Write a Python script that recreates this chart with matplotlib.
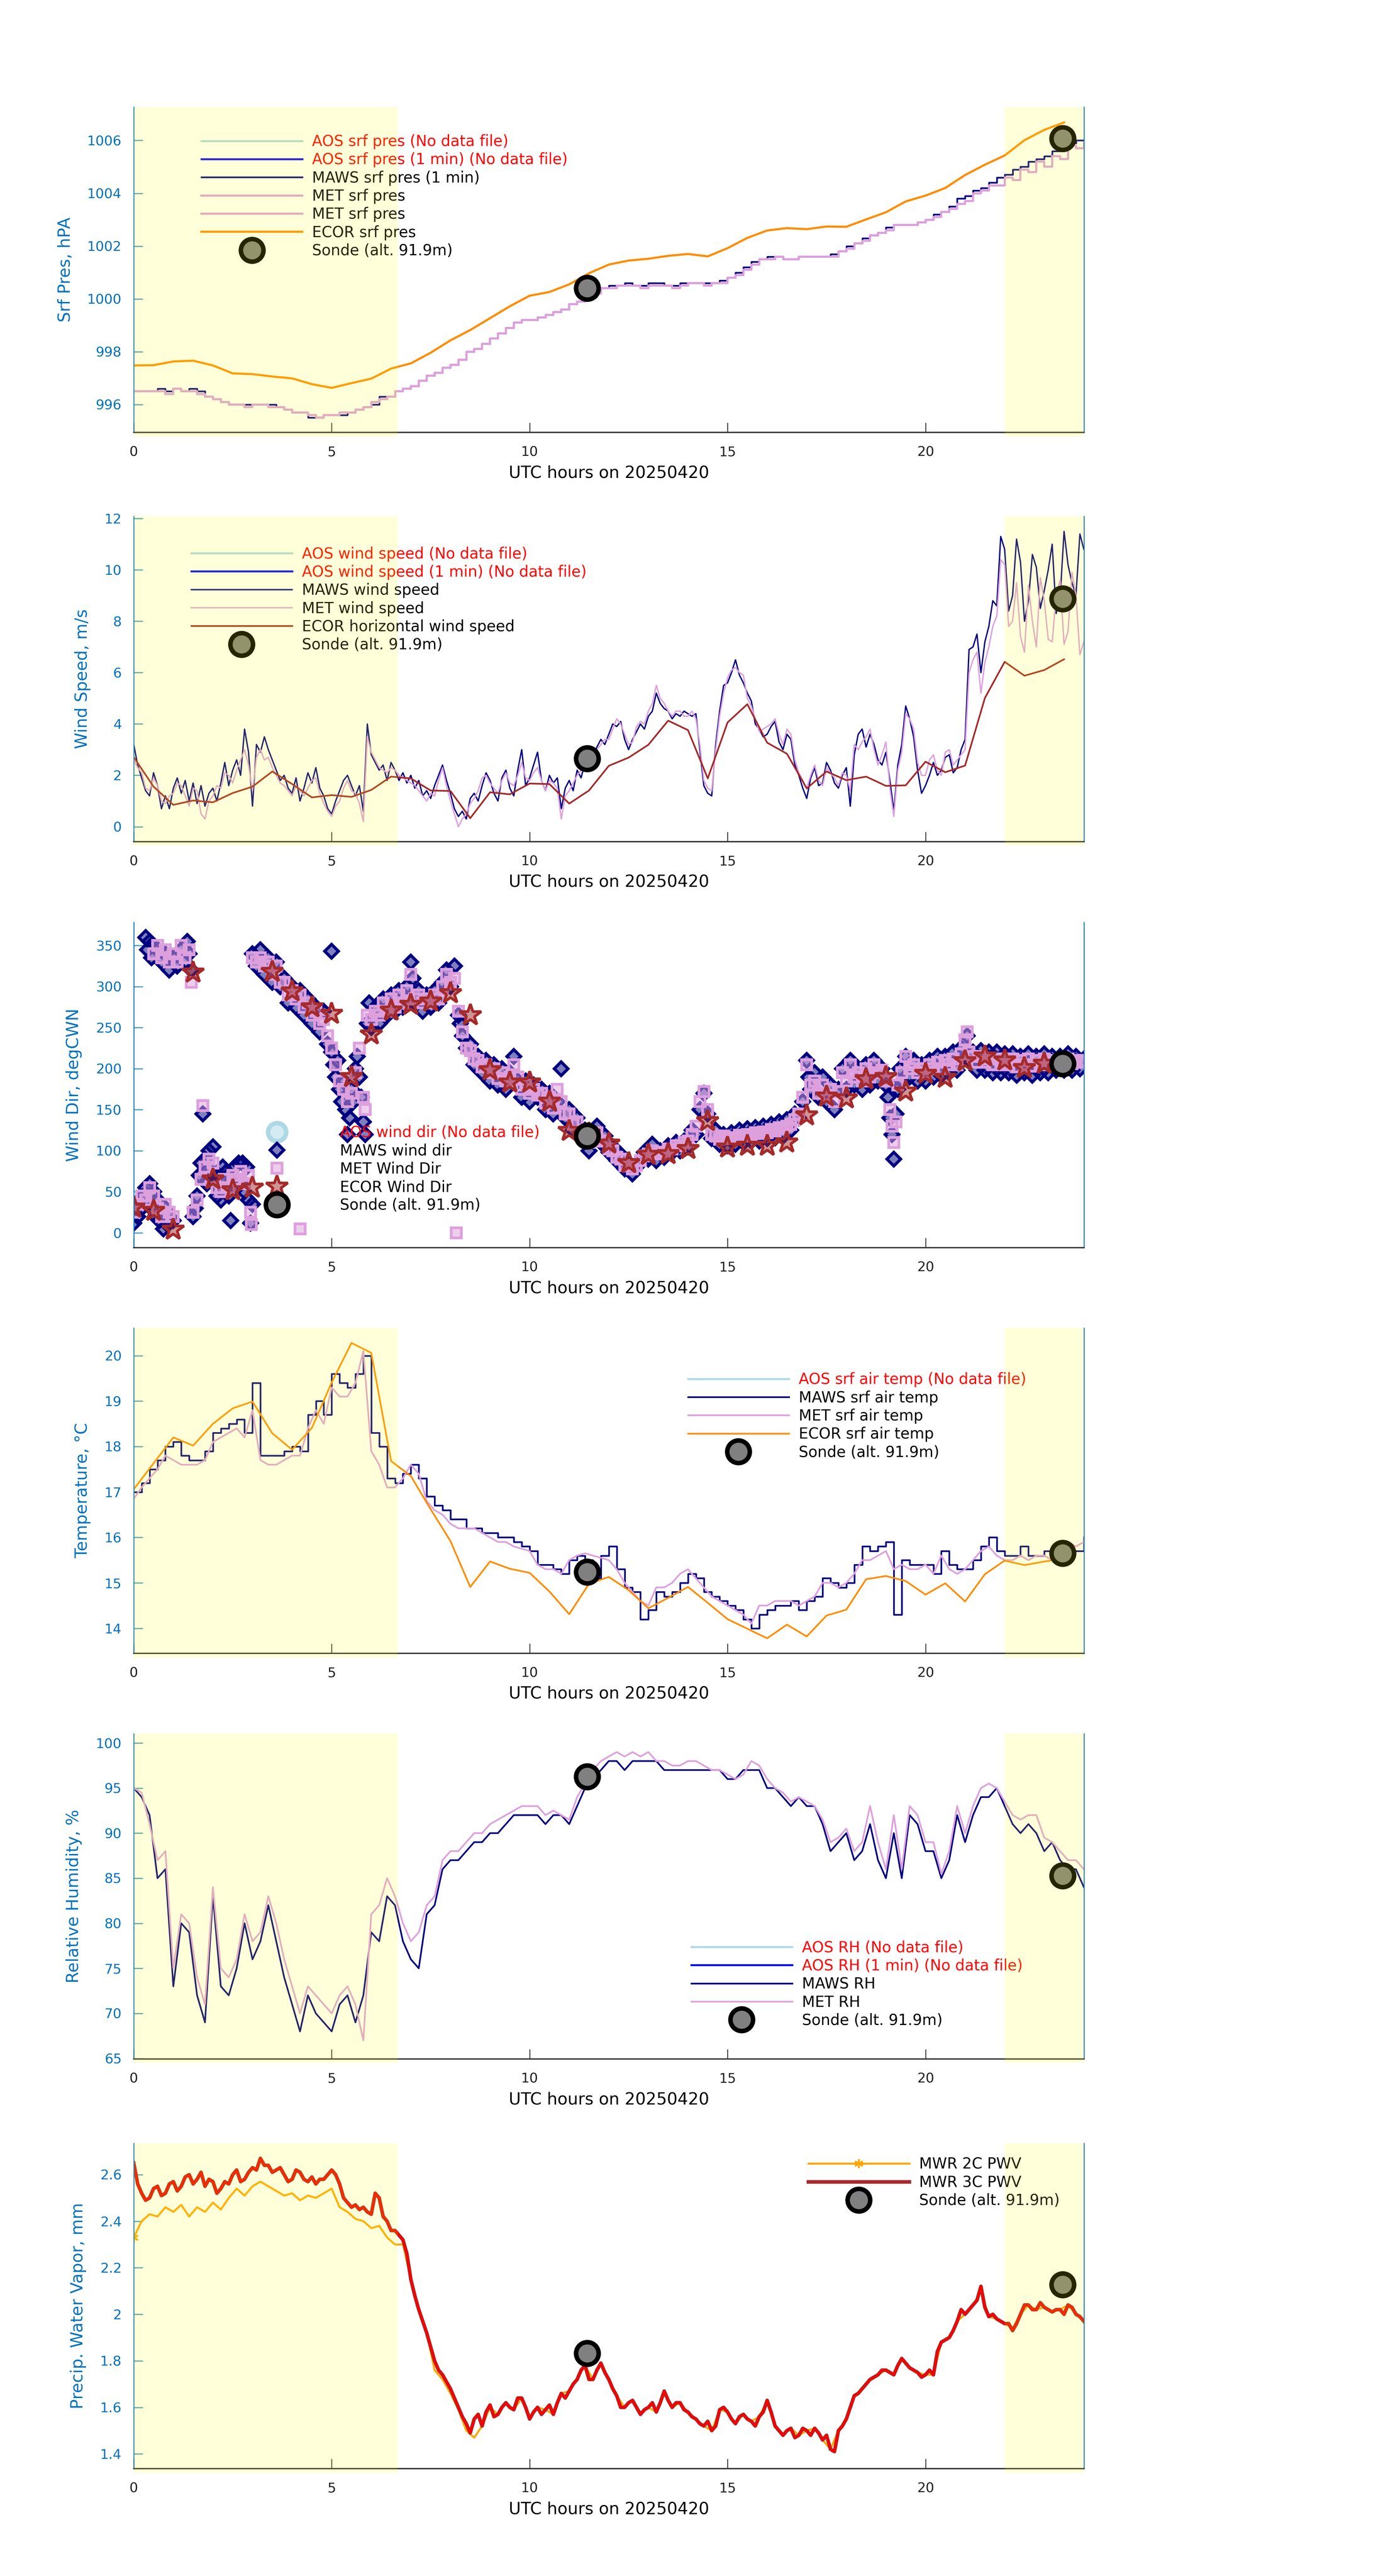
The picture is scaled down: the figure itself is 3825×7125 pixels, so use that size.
import numpy as np
import matplotlib
matplotlib.use('Agg')
import matplotlib.pyplot as plt
from matplotlib.colors import to_rgba
from matplotlib.ticker import FormatStrFormatter

plt.rcParams['font.family'] = ['DejaVu Sans']

day = '20250420'
ax_blue = '#0072bd'

# sonde launches (hours) and their values
sonde_t = [11.45, 23.46]
sonde_pres = [1000.40, 1006.08]
sonde_ws = [2.66, 8.88]
sonde_wd = [118, 206]
sonde_temp = [15.24, 15.65]
sonde_rh = [96.26, 85.28]
sonde_pwv = [1.833, 2.128]

# ECOR is half hourly, 0 .. 23.5
ecor_t = np.arange(48) * 0.5
ecor_pres = [997.48, 997.49, 997.63, 997.66, 997.48, 997.18, 997.15, 997.06, 996.99, 996.77,
             996.63, 996.81, 996.98, 997.36, 997.56, 997.96, 998.43, 998.82, 999.27, 999.72,
             1000.12, 1000.26, 1000.55, 1000.97, 1001.30, 1001.45, 1001.52, 1001.63, 1001.70, 1001.61,
             1001.92, 1002.31, 1002.59, 1002.68, 1002.64, 1002.74, 1002.73, 1003.01, 1003.28, 1003.69,
             1003.91, 1004.20, 1004.69, 1005.08, 1005.43, 1006.01, 1006.40, 1006.68]
ecor_ws = [2.71, 1.56, 0.85, 1.02, 0.95, 1.31, 1.56, 2.15, 1.66, 1.14,
           1.23, 1.16, 1.43, 1.95, 1.88, 1.41, 1.39, 0.33, 1.34, 1.26,
           1.68, 1.66, 0.90, 1.41, 2.37, 2.69, 3.19, 4.13, 3.76, 1.88,
           4.06, 4.77, 3.27, 2.84, 1.49, 2.15, 1.81, 1.95, 1.59, 1.61,
           2.53, 2.12, 2.38, 5.01, 6.42, 5.88, 6.10, 6.52]
ecor_wd = [31, 27, 4, 317, 65, 52, 55, 318, 294, 275,
           267, 190, 242, 271, 278, 282, 292, 265, 198, 183,
           183, 160, 124, 121, 109, 85, 95, 96, 102, 136,
           104, 106, 106, 110, 143, 166, 164, 187, 190, 172,
           194, 189, 209, 215, 210, 201, 206, 206]
ecor_temp = [17.06, 17.63, 18.20, 18.02, 18.50, 18.84, 18.99, 18.29, 17.93, 18.41,
             19.41, 20.28, 20.06, 17.68, 17.35, 16.62, 15.92, 14.91, 15.47, 15.31,
             15.22, 14.81, 14.31, 14.98, 15.13, 14.84, 14.44, 14.67, 14.91, 14.56,
             14.20, 13.99, 13.78, 14.08, 13.82, 14.28, 14.41, 15.08, 15.15, 15.04,
             14.74, 14.99, 14.59, 15.19, 15.49, 15.39, 15.47, 15.53]

# pressure, temperature, RH: every 12 min from 0 to 24 h
maws_pres = [996.5, 996.5, 996.5, 996.6, 996.5, 996.6, 996.5, 996.6, 996.5, 996.3,
             996.2, 996.1, 996.0, 996.0, 996.0, 996.0, 996.0, 996.0, 995.9, 995.8,
             995.7, 995.7, 995.5, 995.5, 995.6, 995.6, 995.6, 995.7, 995.8, 995.9,
             996.0, 996.3, 996.3, 996.5, 996.6, 996.7, 996.9, 997.1, 997.2, 997.4,
             997.5, 997.7, 998.0, 998.1, 998.3, 998.5, 998.7, 998.9, 999.1, 999.2,
             999.2, 999.3, 999.4, 999.5, 999.6, 999.8, 999.9, 1000.1, 1000.3, 1000.4,
             1000.5, 1000.5, 1000.6, 1000.5, 1000.5, 1000.6, 1000.6, 1000.5, 1000.5, 1000.6,
             1000.6, 1000.6, 1000.6, 1000.6, 1000.7, 1000.8, 1001.0, 1001.2, 1001.4, 1001.5,
             1001.6, 1001.6, 1001.5, 1001.5, 1001.6, 1001.6, 1001.6, 1001.6, 1001.7, 1001.8,
             1002.0, 1002.1, 1002.3, 1002.4, 1002.5, 1002.7, 1002.8, 1002.8, 1002.8, 1002.9,
             1003.0, 1003.2, 1003.3, 1003.5, 1003.8, 1003.9, 1004.1, 1004.2, 1004.4, 1004.6,
             1004.7, 1004.9, 1005.0, 1005.2, 1005.3, 1005.4, 1005.6, 1005.7, 1005.9, 1006.0,
             1006.0]
met_pres = [996.5, 996.5, 996.5, 996.5, 996.4, 996.6, 996.5, 996.5, 996.4, 996.3,
            996.2, 996.1, 996.0, 996.0, 995.9, 996.0, 996.0, 995.9, 995.9, 995.8,
            995.7, 995.7, 995.6, 995.5, 995.6, 995.6, 995.7, 995.7, 995.8, 995.9,
            996.1, 996.2, 996.3, 996.5, 996.6, 996.7, 996.9, 997.1, 997.2, 997.4,
            997.5, 997.7, 998.0, 998.1, 998.3, 998.5, 998.7, 998.9, 999.1, 999.2,
            999.2, 999.3, 999.4, 999.5, 999.6, 999.8, 999.9, 1000.1, 1000.2, 1000.4,
            1000.4, 1000.5, 1000.5, 1000.5, 1000.4, 1000.5, 1000.5, 1000.5, 1000.4, 1000.5,
            1000.6, 1000.6, 1000.5, 1000.6, 1000.6, 1000.8, 1000.9, 1001.1, 1001.3, 1001.5,
            1001.5, 1001.6, 1001.5, 1001.5, 1001.6, 1001.6, 1001.6, 1001.6, 1001.6, 1001.8,
            1001.9, 1002.1, 1002.2, 1002.4, 1002.5, 1002.6, 1002.8, 1002.8, 1002.8, 1002.9,
            1003.0, 1003.1, 1003.3, 1003.4, 1003.6, 1003.7, 1004.0, 1004.1, 1004.3, 1004.3,
            1004.6, 1004.5, 1004.9, 1004.8, 1005.2, 1005.0, 1005.4, 1005.3, 1005.8, 1005.7,
            1005.9]

maws_temp = [17.0, 17.2, 17.5, 17.7, 18.0, 18.1, 17.8, 17.7, 17.7, 17.9,
             18.3, 18.4, 18.5, 18.6, 18.3, 19.4, 17.8, 17.8, 17.8, 17.9,
             18.0, 17.9, 18.7, 19.0, 18.7, 19.6, 19.4, 19.3, 19.6, 20.0,
             18.3, 18.0, 17.3, 17.2, 17.4, 17.6, 17.3, 16.9, 16.7, 16.6,
             16.4, 16.4, 16.2, 16.2, 16.1, 16.1, 16.0, 16.0, 15.9, 15.8,
             15.7, 15.4, 15.4, 15.3, 15.2, 15.5, 15.6, 15.5, 15.1, 15.6,
             15.8, 15.3, 14.9, 14.8, 14.2, 14.4, 14.8, 14.7, 14.8, 15.0,
             15.2, 15.1, 14.8, 14.7, 14.6, 14.5, 14.4, 14.2, 14.0, 14.3,
             14.4, 14.5, 14.5, 14.6, 14.4, 14.6, 14.7, 15.1, 15.0, 14.9,
             15.0, 15.4, 15.8, 15.7, 15.8, 15.9, 14.3, 15.5, 15.4, 15.4,
             15.4, 15.2, 15.7, 15.4, 15.3, 15.3, 15.5, 15.8, 16.0, 15.7,
             15.6, 15.6, 15.8, 15.6, 15.6, 15.7, 15.6, 15.6, 15.7, 15.7,
             16.0]
met_temp = [16.85, 17.1, 17.3, 17.5, 17.8, 17.7, 17.6, 17.6, 17.6, 17.7,
            18.1, 18.2, 18.3, 18.4, 18.2, 18.8, 17.7, 17.6, 17.6, 17.7,
            17.8, 17.8, 18.4, 18.8, 18.5, 19.3, 19.1, 19.1, 19.4, 20.1,
            17.9, 17.6, 17.1, 17.1, 17.3, 17.6, 17.4, 16.8, 16.6, 16.5,
            16.3, 16.2, 16.2, 16.2, 16.1, 16.0, 15.9, 15.9, 15.8, 15.75,
            15.7, 15.4, 15.3, 15.3, 15.2, 15.5, 15.6, 15.65, 15.6, 15.55,
            15.5, 15.3, 15.0, 14.8, 14.6, 14.5, 14.9, 14.9, 15.0, 15.2,
            15.3, 15.1, 14.9, 14.7, 14.6, 14.5, 14.4, 14.3, 14.1, 14.5,
            14.5, 14.6, 14.6, 14.6, 14.5, 14.6, 14.7, 15.0, 15.0, 14.9,
            15.0, 15.2, 15.5, 15.5, 15.6, 15.7, 15.3, 15.4, 15.3, 15.3,
            15.4, 15.2, 15.6, 15.3, 15.2, 15.3, 15.5, 15.7, 15.8, 15.6,
            15.5, 15.5, 15.6, 15.5, 15.6, 15.6, 15.5, 15.7, 15.9, 15.8,
            15.9]

maws_rh = [95, 94, 92, 85, 86, 73, 80, 79, 72, 69,
           83, 73, 72, 75, 80, 76, 78, 82, 78, 74,
           71, 68, 72, 70, 69, 68, 71, 72, 69, 72,
           79, 78, 83, 82, 78, 76, 75, 81, 82, 86,
           87, 87, 88, 89, 89, 90, 90, 91, 92, 92,
           92, 92, 91, 92, 92, 91, 93, 95, 96, 97,
           98, 98, 97, 98, 98, 98, 98, 97, 97, 97,
           97, 97, 97, 97, 97, 96, 96, 97, 97, 97,
           95, 95, 94, 93, 94, 93, 93, 91, 88, 89,
           90, 87, 88, 91, 87, 85, 90, 85, 92, 91,
           88, 88, 85, 87, 92, 89, 92, 94, 94, 95,
           93, 91, 90, 91, 90, 88, 89, 87, 86, 86,
           84]
met_rh = [95, 94.5, 91, 87, 88, 75, 81, 80, 74, 71,
          84, 75, 74, 76, 81, 78, 79, 83, 80, 76,
          73, 70, 73, 72, 71, 70, 72, 73, 71, 67,
          81, 82, 85, 83, 80, 78, 79, 82, 83, 87,
          88, 88, 89, 90, 90, 91, 91.5, 92, 92.5, 93,
          93, 93, 92, 92.5, 92, 91.5, 94, 95.5, 97, 98,
          98.5, 99, 98.5, 99, 98.5, 99, 98, 98, 97.5, 97.5,
          98, 98, 97.5, 97, 97, 96.5, 96, 96.5, 98, 97.5,
          96, 95, 94.5, 93.5, 94, 93.5, 93, 91.5, 89, 89.5,
          90.5, 88, 89, 93, 89, 86, 92, 86, 93, 92,
          89, 89, 85.5, 88, 93, 90, 93, 95, 95.5, 95,
          93.5, 92, 91.5, 92, 92, 89.5, 89, 88, 87, 87,
          86]

# wind speed and MWR 3C: every 6 min from 0 to 24 h
maws_ws = [3.2, 2.4, 1.9, 1.4, 1.2, 2.1, 1.6, 0.7, 1.2, 0.7,
           1.5, 1.9, 1.3, 1.8, 1.0, 1.7, 0.9, 1.6, 0.8, 1.3,
           1.5, 1.0, 1.7, 2.5, 1.6, 2.2, 2.6, 2.0, 3.8, 2.9,
           0.8, 3.2, 2.9, 3.5, 3.0, 2.6, 2.2, 1.8, 2.0, 1.5,
           1.3, 1.9, 1.0, 1.5, 2.1, 1.7, 2.3, 1.5, 1.2, 0.7,
           0.5, 1.0, 1.4, 1.8, 2.0, 1.6, 1.2, 1.6, 0.6, 4.0,
           2.8, 2.5, 2.2, 2.4, 1.8, 2.5, 2.2, 1.8, 2.1, 1.7,
           2.0, 1.5, 1.8, 1.2, 1.4, 1.1, 1.6, 2.0, 2.4, 1.8,
           1.3, 0.7, 0.4, 0.6, 0.3, 1.1, 1.3, 1.0, 1.6, 2.1,
           1.8, 1.3, 1.0, 1.9, 2.2, 1.5, 1.2, 2.2, 3.0, 1.6,
           1.9, 2.4, 2.9, 1.8, 1.4, 2.0, 1.7, 1.9, 0.7, 1.5,
           1.8, 1.4, 2.2, 1.9, 2.5, 2.3, 2.8, 3.1, 3.4, 3.2,
           3.6, 4.0, 3.9, 4.1, 3.4, 3.0, 3.4, 3.7, 4.0, 3.8,
           4.3, 4.5, 5.2, 4.8, 4.6, 4.5, 4.2, 4.4, 4.3, 4.5,
           4.4, 4.3, 4.4, 3.0, 1.6, 1.3, 1.2, 3.2, 4.5, 5.5,
           5.6, 6.0, 6.5, 5.9, 5.6, 5.2, 4.9, 4.0, 3.8, 3.5,
           3.6, 3.9, 4.1, 3.3, 3.0, 3.6, 3.4, 2.4, 2.0, 1.5,
           1.1, 1.9, 2.3, 1.6, 1.7, 2.5, 2.2, 1.7, 1.5, 2.0,
           2.3, 0.8, 2.8, 3.6, 3.8, 3.1, 3.6, 3.2, 2.6, 2.4,
           2.9, 1.8, 0.6, 2.4, 3.2, 4.7, 4.2, 3.5, 2.2, 1.3,
           1.6, 2.0, 2.5, 2.0, 2.2, 2.7, 2.8, 2.1, 2.3, 3.0,
           3.4, 6.9, 7.0, 7.5, 6.0, 7.2, 7.8, 8.8, 8.6, 11.3,
           10.8, 8.4, 9.0, 11.2, 10.3, 8.0, 8.8, 10.6, 10.1, 8.5,
           9.2, 10.0, 11.0, 8.3, 8.9, 11.5, 10.2, 9.5, 9.0, 11.4,
           10.8]
met_ws = [2.6, 2.3, 2.1, 1.5, 1.4, 1.9, 1.6, 1.0, 0.9, 1.2,
          1.3, 1.7, 1.6, 1.2, 0.8, 1.5, 1.4, 0.5, 0.3, 1.0,
          1.2, 1.6, 1.5, 2.1, 2.0, 1.7, 2.2, 2.6, 3.0, 2.4,
          1.4, 2.7, 3.0, 2.6, 2.7, 2.3, 2.0, 1.7, 1.6, 1.4,
          1.2, 1.6, 1.4, 1.2, 1.5, 1.8, 1.9, 1.3, 0.9, 0.6,
          0.4, 0.8, 1.0, 1.5, 1.8, 1.4, 1.3, 0.9, 0.2, 3.5,
          2.9, 2.6, 2.3, 2.2, 2.1, 2.3, 2.2, 2.0, 1.9, 1.8,
          1.7, 1.6, 1.4, 1.2, 1.0, 1.3, 1.2, 1.8, 2.3, 1.6,
          1.0, 0.5, 0.0, 0.3, 0.5, 0.9, 1.1, 1.4, 1.9, 2.0,
          1.7, 1.5, 1.3, 1.8, 2.1, 1.7, 1.6, 2.0, 2.5, 1.9,
          1.8, 2.1, 2.3, 1.8, 1.4, 1.8, 1.7, 1.5, 0.3, 1.2,
          1.4, 1.7, 2.0, 2.2, 2.6, 2.5, 2.9, 3.0, 3.2, 3.4,
          3.4, 3.8, 4.2, 4.0, 3.6, 3.2, 3.3, 3.9, 4.1, 4.0,
          4.5, 4.8, 5.5, 5.0, 4.8, 4.5, 4.3, 4.5, 4.5, 4.3,
          4.3, 4.5, 4.2, 3.2, 1.8, 1.5, 1.4, 3.0, 4.3, 5.2,
          5.8, 6.1, 6.2, 6.0, 5.9, 5.0, 4.7, 4.2, 3.7, 3.8,
          3.9, 4.0, 4.2, 3.6, 3.2, 3.8, 3.6, 2.6, 2.1, 1.8,
          1.5, 2.0, 2.4, 1.8, 1.6, 2.3, 2.1, 1.9, 1.6, 2.1,
          2.0, 1.4, 3.2, 3.0, 3.3, 3.5, 3.8, 3.0, 2.4, 2.8,
          3.3, 1.5, 0.4, 2.2, 2.9, 4.4, 4.2, 3.8, 2.5, 2.0,
          2.0, 2.6, 2.8, 2.2, 2.0, 2.9, 3.0, 2.4, 2.6, 2.8,
          3.0, 6.0, 6.5, 6.8, 5.2, 6.4, 7.0, 7.8, 8.2, 10.4,
          10.2, 7.8, 8.0, 9.5, 7.4, 6.8, 9.4, 8.0, 7.0, 9.7,
          8.8, 7.3, 7.2, 9.0, 9.6, 7.1, 7.6, 9.9, 9.0, 6.7,
          7.2]

mwr3c_pwv = [2.65, 2.56, 2.52, 2.49, 2.50, 2.54, 2.55, 2.51, 2.52, 2.56,
             2.57, 2.53, 2.55, 2.59, 2.60, 2.56, 2.58, 2.61, 2.55, 2.58,
             2.57, 2.52, 2.54, 2.57, 2.56, 2.60, 2.62, 2.57, 2.58, 2.61,
             2.63, 2.62, 2.67, 2.64, 2.64, 2.61, 2.62, 2.63, 2.60, 2.57,
             2.58, 2.62, 2.61, 2.58, 2.57, 2.59, 2.56, 2.58, 2.58, 2.60,
             2.62, 2.60, 2.56, 2.50, 2.48, 2.46, 2.47, 2.45, 2.46, 2.44,
             2.43, 2.52, 2.50, 2.42, 2.40, 2.36, 2.36, 2.34, 2.32, 2.26,
             2.15, 2.08, 2.02, 1.97, 1.92, 1.86, 1.80, 1.76, 1.74, 1.71,
             1.68, 1.64, 1.60, 1.56, 1.53, 1.49, 1.55, 1.57, 1.52, 1.58,
             1.61, 1.56, 1.57, 1.60, 1.62, 1.60, 1.59, 1.64, 1.64, 1.60,
             1.55, 1.58, 1.60, 1.57, 1.59, 1.61, 1.57, 1.62, 1.66, 1.64,
             1.67, 1.70, 1.72, 1.76, 1.78, 1.72, 1.72, 1.76, 1.79, 1.75,
             1.72, 1.68, 1.65, 1.60, 1.60, 1.62, 1.63, 1.60, 1.57, 1.59,
             1.60, 1.62, 1.58, 1.62, 1.67, 1.63, 1.60, 1.62, 1.62, 1.59,
             1.58, 1.56, 1.55, 1.53, 1.52, 1.54, 1.50, 1.52, 1.59, 1.60,
             1.58, 1.55, 1.53, 1.56, 1.57, 1.55, 1.54, 1.52, 1.56, 1.58,
             1.63, 1.58, 1.52, 1.50, 1.48, 1.50, 1.51, 1.47, 1.48, 1.51,
             1.50, 1.48, 1.51, 1.49, 1.46, 1.48, 1.42, 1.41, 1.50, 1.52,
             1.55, 1.60, 1.65, 1.66, 1.68, 1.70, 1.72, 1.73, 1.74, 1.76,
             1.76, 1.75, 1.74, 1.78, 1.81, 1.79, 1.77, 1.76, 1.75, 1.73,
             1.74, 1.76, 1.74, 1.84, 1.88, 1.89, 1.90, 1.93, 1.97, 2.02,
             2.00, 2.02, 2.04, 2.06, 2.12, 2.03, 1.99, 2.00, 1.98, 1.97,
             1.96, 1.96, 1.93, 1.96, 2.00, 2.04, 2.04, 2.02, 2.02, 2.05,
             2.03, 2.02, 2.01, 2.02, 2.02, 2.00, 2.04, 2.03, 2.00, 1.99,
             1.97]
# MWR 2C every 12 min
mwr2c_pwv = [2.33, 2.40, 2.43, 2.42, 2.46, 2.44, 2.47, 2.42, 2.46, 2.44,
             2.48, 2.45, 2.50, 2.54, 2.51, 2.55, 2.57, 2.55, 2.53, 2.51,
             2.52, 2.49, 2.51, 2.50, 2.52, 2.54, 2.46, 2.44, 2.41, 2.40,
             2.37, 2.38, 2.33, 2.30, 2.30, 2.15, 2.02, 1.92, 1.76, 1.72,
             1.66, 1.59, 1.50, 1.47, 1.52, 1.60, 1.57, 1.62, 1.59, 1.64,
             1.55, 1.60, 1.59, 1.57, 1.66, 1.67, 1.72, 1.78, 1.72, 1.79,
             1.72, 1.65, 1.60, 1.63, 1.57, 1.60, 1.58, 1.67, 1.60, 1.62,
             1.58, 1.55, 1.52, 1.50, 1.59, 1.58, 1.53, 1.57, 1.54, 1.56,
             1.63, 1.52, 1.48, 1.51, 1.48, 1.50, 1.51, 1.46, 1.42, 1.50,
             1.55, 1.65, 1.68, 1.72, 1.74, 1.76, 1.74, 1.81, 1.77, 1.75,
             1.74, 1.74, 1.88, 1.90, 1.97, 2.00, 2.04, 2.10, 1.99, 1.98,
             1.96, 1.94, 2.00, 2.04, 2.02, 2.03, 2.01, 2.02, 2.04, 2.00,
             1.97]

# wind direction, (hour, degrees)
maws_wd_pts = [
    (0.0, 12), (0.05, 30), (0.1, 20), (0.15, 40), (0.2, 30), (0.25, 45), (0.3, 55), (0.35, 35),
    (0.4, 60), (0.45, 30), (0.5, 50), (0.55, 20), (0.6, 40), (0.65, 15), (0.7, 25), (0.75, 5),
    (0.8, 30), (0.85, 10), (0.9, 20), (1.0, 15),
    (0.3, 360), (0.35, 345), (0.4, 355), (0.45, 335), (0.5, 350), (0.6, 345), (0.7, 330), (0.8, 340),
    (0.9, 320), (1.0, 335), (1.1, 325), (1.2, 345), (1.3, 330), (1.35, 355), (1.4, 340), (1.45, 320),
    (1.5, 20), (1.55, 30), (1.6, 45), (1.65, 70), (1.7, 85), (1.75, 145), (1.8, 90), (1.85, 60),
    (1.9, 100), (1.95, 75), (2.0, 105), (2.05, 60), (2.1, 45), (2.15, 70), (2.2, 40), (2.25, 80),
    (2.3, 55), (2.35, 75), (2.4, 45), (2.45, 15), (2.5, 65), (2.55, 80), (2.6, 55), (2.65, 85),
    (2.7, 60), (2.75, 85), (2.8, 50), (2.85, 80), (2.9, 40), (2.95, 12), (3.0, 35),
    (3.0, 340), (3.1, 325), (3.2, 345), (3.3, 315), (3.4, 335), (3.5, 305), (3.6, 330), (3.7, 300),
    (3.8, 310), (3.9, 280), (4.0, 300), (4.1, 275), (4.2, 295), (4.3, 265), (4.4, 285), (4.5, 255),
    (4.6, 275), (4.7, 245), (4.8, 270), (4.9, 230), (5.0, 220), (5.0, 343),
    (5.05, 205), (5.1, 190), (5.15, 210), (5.2, 175), (5.25, 160), (5.3, 185), (5.35, 150), (5.4, 120),
    (5.45, 140), (5.5, 175), (5.55, 160), (5.6, 200), (5.65, 215), (5.7, 190), (5.75, 165), (5.8, 135),
    (5.85, 120), (5.9, 255), (5.95, 280), (6.0, 250),
    (6.1, 275), (6.2, 255), (6.3, 285), (6.4, 265), (6.5, 290), (6.6, 270), (6.7, 295), (6.8, 275),
    (6.9, 300), (7.0, 330), (7.05, 310), (7.1, 280), (7.2, 295), (7.3, 270), (7.4, 290), (7.5, 275),
    (7.6, 295), (7.7, 280), (7.8, 305), (7.9, 320), (8.0, 300), (8.1, 325), (8.2, 265), (8.25, 255),
    (8.3, 240), (8.4, 225), (8.5, 230), (8.6, 205), (8.7, 215), (8.8, 195), (8.9, 210), (9.0, 185),
    (9.1, 205), (9.2, 180), (9.3, 200), (9.4, 175), (9.5, 195), (9.6, 215), (9.7, 185), (9.8, 165),
    (9.9, 185), (10.0, 160), (10.1, 180), (10.2, 165), (10.3, 175), (10.4, 150), (10.5, 170), (10.6, 145),
    (10.7, 160), (10.8, 200), (10.9, 140), (11.0, 150), (11.1, 125), (11.2, 140), (11.3, 115), (11.4, 125),
    (11.5, 100), (11.6, 115), (11.7, 130),
    (11.8, 110), (11.9, 118), (12.0, 98), (12.1, 105), (12.2, 88), (12.3, 95), (12.4, 78), (12.5, 85),
    (12.6, 72), (12.7, 82), (12.8, 85), (12.9, 98), (13.0, 90), (13.1, 108), (13.2, 88), (13.3, 100),
    (13.4, 92), (13.5, 106), (13.6, 98), (13.7, 110), (13.8, 100), (13.9, 112), (14.0, 105), (14.1, 125),
    (14.2, 120), (14.3, 150), (14.4, 170), (14.5, 145), (14.6, 115), (14.7, 125),
    (14.8, 108), (14.9, 120), (15.0, 106), (15.1, 122), (15.2, 108), (15.3, 125), (15.4, 110), (15.5, 127),
    (15.6, 112), (15.7, 128), (15.8, 112), (15.9, 130), (16.0, 115), (16.1, 132), (16.2, 116), (16.3, 135),
    (16.4, 118), (16.5, 138), (16.6, 125), (16.7, 145), (16.8, 140),
    (16.9, 160), (17.0, 210), (17.05, 190), (17.1, 175), (17.2, 195), (17.3, 165), (17.4, 190), (17.5, 160),
    (17.6, 180), (17.7, 150), (17.8, 175), (17.9, 200), (18.0, 175), (18.1, 210), (18.2, 180), (18.3, 200),
    (18.4, 175), (18.5, 205), (18.6, 180), (18.7, 210), (18.8, 185), (18.9, 200), (19.0, 180), (19.05, 165),
    (19.1, 140), (19.15, 120), (19.2, 90), (19.25, 145), (19.3, 175), (19.35, 200), (19.4, 185), (19.5, 215),
    (19.6, 190), (19.7, 210), (19.8, 185), (19.9, 205), (20.0, 185), (20.1, 210), (20.2, 190), (20.3, 215),
    (20.4, 192), (20.5, 215), (20.6, 195), (20.7, 220), (20.8, 198), (20.9, 225), (21.0, 215), (21.05, 240),
    (21.1, 210), (21.2, 220), (21.3, 198), (21.4, 222), (21.5, 198), (21.6, 220), (21.7, 195), (21.8, 220),
    (21.9, 195), (22.0, 218), (22.1, 195), (22.2, 218), (22.3, 192), (22.4, 215), (22.5, 195), (22.6, 218),
    (22.7, 192), (22.8, 215), (22.9, 195), (23.0, 218), (23.1, 195), (23.2, 215), (23.3, 198), (23.4, 215),
    (23.5, 198), (23.6, 218), (23.7, 198), (23.8, 215), (23.9, 200), (24.0, 212)]

met_wd_pts = [
    (0.0, 25), (0.1, 35), (0.2, 45), (0.3, 40), (0.4, 55), (0.5, 45), (0.6, 30), (0.7, 20),
    (0.8, 35), (0.9, 25), (1.0, 20),
    (0.5, 340), (0.6, 350), (0.7, 335), (0.8, 345), (0.9, 330), (1.0, 340), (1.1, 330), (1.2, 350),
    (1.3, 335), (1.4, 345), (1.45, 305),
    (1.5, 25), (1.6, 40), (1.7, 65), (1.75, 155), (1.8, 80), (1.9, 90), (2.0, 85), (2.1, 55),
    (2.2, 50), (2.3, 65), (2.4, 55), (2.5, 70), (2.6, 65), (2.7, 75), (2.8, 60), (2.9, 70),
    (2.95, 25), (2.97, 10), (4.2, 5), (8.15, 0),
    (3.0, 335), (3.1, 330), (3.2, 335), (3.3, 325), (3.4, 330), (3.5, 315), (3.6, 325), (3.7, 305),
    (3.8, 305), (3.9, 290), (4.0, 295), (4.1, 285), (4.2, 290), (4.3, 275), (4.4, 280), (4.5, 265),
    (4.6, 270), (4.7, 255), (4.8, 260), (4.9, 240), (5.0, 225),
    (5.1, 205), (5.2, 185), (5.3, 175), (5.4, 160), (5.5, 170), (5.6, 195), (5.7, 225), (5.8, 165),
    (5.85, 150), (5.9, 265), (6.0, 260),
    (6.1, 270), (6.2, 265), (6.3, 280), (6.4, 270), (6.5, 285), (6.6, 275), (6.7, 290), (6.8, 280),
    (6.9, 295), (7.0, 315), (7.1, 285), (7.2, 290), (7.3, 280), (7.4, 285), (7.5, 280), (7.6, 290),
    (7.7, 285), (7.8, 300), (7.9, 315), (8.0, 305), (8.1, 310), (8.2, 270),
    (8.3, 245), (8.4, 225), (8.5, 222), (8.6, 212), (8.7, 210), (8.8, 202), (8.9, 205), (9.0, 195),
    (9.1, 200), (9.2, 188), (9.3, 195), (9.4, 185), (9.5, 190), (9.6, 205), (9.7, 190), (9.8, 175),
    (9.9, 180), (10.0, 170), (10.1, 175), (10.2, 168), (10.3, 170), (10.4, 158), (10.5, 165), (10.6, 152),
    (10.7, 175), (10.8, 160), (10.9, 145), (11.0, 145), (11.1, 132), (11.2, 135), (11.3, 122), (11.4, 122),
    (11.5, 110), (11.6, 115), (11.7, 122),
    (11.8, 112), (11.9, 112), (12.0, 102), (12.1, 100), (12.2, 92), (12.3, 90), (12.4, 82), (12.5, 82),
    (12.6, 78), (12.7, 82), (12.8, 88), (12.9, 94), (13.0, 96), (13.1, 100), (13.2, 96), (13.3, 98),
    (13.4, 98), (13.5, 102), (13.6, 102), (13.7, 106), (13.8, 106), (13.9, 110), (14.0, 112), (14.1, 120),
    (14.2, 130), (14.3, 160), (14.4, 172), (14.5, 150), (14.6, 120), (14.7, 118),
    (14.8, 114), (14.9, 118), (15.0, 115), (15.1, 116), (15.2, 116), (15.3, 119), (15.4, 118), (15.5, 120),
    (15.6, 120), (15.7, 122), (15.8, 121), (15.9, 123), (16.0, 122), (16.1, 126), (16.2, 124), (16.3, 128),
    (16.4, 127), (16.5, 130), (16.6, 132), (16.7, 138), (16.8, 145),
    (16.9, 165), (17.0, 205), (17.1, 180), (17.2, 185), (17.3, 170), (17.4, 180), (17.5, 168), (17.6, 175),
    (17.7, 160), (17.8, 172), (17.9, 195), (18.0, 185), (18.1, 205), (18.2, 190), (18.3, 195), (18.4, 185),
    (18.5, 200), (18.6, 190), (18.7, 205), (18.8, 195), (18.9, 198), (19.0, 185), (19.1, 150), (19.15, 130),
    (19.2, 110), (19.25, 135), (19.3, 180), (19.4, 195), (19.5, 215),
    (19.6, 200), (19.7, 205), (19.8, 195), (19.9, 200), (20.0, 195), (20.1, 205), (20.2, 200), (20.3, 208),
    (20.4, 200), (20.5, 210), (20.6, 205), (20.7, 212), (20.8, 205), (20.9, 218), (21.0, 235), (21.05, 245),
    (21.1, 220), (21.2, 215), (21.3, 208), (21.4, 215), (21.5, 208), (21.6, 212), (21.7, 205), (21.8, 212),
    (21.9, 205), (22.0, 212), (22.1, 205), (22.2, 212), (22.3, 202), (22.4, 210), (22.5, 205), (22.6, 212),
    (22.7, 203), (22.8, 210), (22.9, 205), (23.0, 212), (23.1, 205), (23.2, 210), (23.3, 206), (23.4, 210),
    (23.5, 206), (23.6, 212), (23.7, 206), (23.8, 210), (23.9, 208), (24.0, 210)]

shade_spans = [(0, 6.67), (22, 24)]


def hours(vals):
    return np.linspace(0, 24, len(vals))


def style(ax, ylabel, ylim, yticks, shade=True):
    ax.set_xlim(0, 24)
    ax.set_ylim(ylim)
    ax.set_yticks(yticks)
    ax.set_xticks([0, 5, 10, 15, 20])
    ax.set_xlabel('UTC hours on ' + day, fontsize=11, labelpad=4)
    ax.set_ylabel(ylabel, fontsize=11, color=ax_blue, labelpad=9)
    ax.tick_params(axis='y', direction='in', length=6, width=0.8, color='#4f9fc8',
                   labelcolor=ax_blue, labelsize=9, pad=8)
    ax.tick_params(axis='x', direction='in', length=6.5, width=0.6, color='#333333',
                   labelcolor='#222222', labelsize=9, pad=9)
    ax.spines['top'].set_visible(False)
    for s in ['left', 'right']:
        ax.spines[s].set_color(ax_blue)
        ax.spines[s].set_linewidth(0.6)
    ax.spines['bottom'].set_color('#333333')
    ax.spines['bottom'].set_linewidth(0.9)
    if shade:
        for a, b in shade_spans:
            ax.axvspan(a, b, ymin=-0.012, ymax=1, color='yellow', alpha=0.15, lw=0,
                       zorder=20, clip_on=False)


def add_legend(ax, x0, y0, n_red, hl=6.7, pad=0.65):
    leg = ax.legend(loc='upper left', bbox_to_anchor=(x0, y0), frameon=False, fontsize=10,
                    handlelength=hl, handletextpad=pad, labelspacing=0.2,
                    borderpad=0, borderaxespad=0)
    for t in leg.get_texts()[:n_red]:
        t.set_color('red')
    leg.set_zorder(5)


def sonde(ax, y):
    ax.plot(sonde_t, y, ls='none', marker='o', ms=15, mfc='gray', mec='black', mew=3,
            label='Sonde (alt. 91.9m)', zorder=8)


fig = plt.figure(figsize=(12.75, 23.75), dpi=300)
left, width, height = 0.0967, 0.687, 0.1263
bottoms = [0.8321, 0.6733, 0.5156, 0.3582, 0.2007, 0.0417]
axs = [fig.add_axes([left, b, width, height]) for b in bottoms]

# 1. surface pressure
ax = axs[0]
ax.plot([], [], color='lightblue', lw=1.3, label='AOS srf pres (No data file)')
ax.plot([], [], color='blue', lw=1.3, label='AOS srf pres (1 min) (No data file)')
ax.plot(hours(maws_pres), maws_pres, color='navy', lw=1.1, drawstyle='steps-post',
        label='MAWS srf pres (1 min)')
ax.plot(hours(met_pres), met_pres, color='plum', lw=1.4, drawstyle='steps-post', label='MET srf pres')
ax.plot([], [], color='plum', lw=1.4, label='MET srf pres')
ax.plot(ecor_t, ecor_pres, color='darkorange', lw=1.4, label='ECOR srf pres')
sonde(ax, sonde_pres)
style(ax, 'Srf Pres, hPA', (994.94, 1007.26), [996, 998, 1000, 1002, 1004, 1006])
add_legend(ax, 0.0712, 0.917, 2)

# 2. wind speed
ax = axs[1]
ax.plot([], [], color='lightblue', lw=1.3, label='AOS wind speed (No data file)')
ax.plot([], [], color='blue', lw=1.3, label='AOS wind speed (1 min) (No data file)')
ax.plot(hours(maws_ws), maws_ws, color='navy', lw=0.9, label='MAWS wind speed')
ax.plot(hours(met_ws), met_ws, color='plum', lw=0.9, label='MET wind speed')
ax.plot(ecor_t, ecor_ws, color='brown', lw=1.1, label='ECOR horizontal wind speed')
sonde(ax, sonde_ws)
style(ax, 'Wind Speed, m/s', (-0.58, 12.09), list(range(0, 13, 2)))
add_legend(ax, 0.0605, 0.907, 2)

# 3. wind direction (no shading here)
ax = axs[2]
mt, mv = np.array(maws_wd_pts).T
et, ev = np.array(met_wd_pts).T
ax.plot([], [], ls='none', marker='o', ms=12, mfc=to_rgba('lightblue', 0.5), mec='lightblue',
        mew=3, label='AOS wind dir (No data file)')
ax.plot(mt, mv, ls='none', marker='D', ms=6.5, mfc=to_rgba('navy', 0.5), mec='navy', mew=2,
        label='MAWS wind dir')
ax.plot(et, ev, ls='none', marker='s', ms=6.5, mfc=to_rgba('plum', 0.5), mec='plum', mew=1.8,
        label='MET Wind Dir')
ax.plot(ecor_t, ecor_wd, ls='none', marker='*', ms=15, mfc=to_rgba('brown', 0.5), mec='brown',
        mew=1.8, label='ECOR Wind Dir')
sonde(ax, sonde_wd)
style(ax, 'Wind Dir, degCWN', (-18.2, 378.1), list(range(0, 351, 50)), shade=False)
add_legend(ax, 0.0947, 0.377, 1, hl=7.06)

# 4. temperature
ax = axs[3]
ax.plot([], [], color='lightblue', lw=1.3, label='AOS srf air temp (No data file)')
ax.plot(hours(maws_temp), maws_temp, color='navy', lw=1.1, drawstyle='steps-post',
        label='MAWS srf air temp')
ax.plot(hours(met_temp), met_temp, color='plum', lw=1.1, label='MET srf air temp')
ax.plot(ecor_t, ecor_temp, color='darkorange', lw=1.1, label='ECOR srf air temp')
sonde(ax, sonde_temp)
style(ax, 'Temperature, \u00b0C', (13.45, 20.61), list(range(14, 21)))
add_legend(ax, 0.5833, 0.864, 1)

# 5. relative humidity
ax = axs[4]
ax.plot([], [], color='lightblue', lw=1.3, label='AOS RH (No data file)')
ax.plot([], [], color='blue', lw=1.3, label='AOS RH (1 min) (No data file)')
ax.plot(hours(maws_rh), maws_rh, color='navy', lw=1.1, label='MAWS RH')
ax.plot(hours(met_rh), met_rh, color='plum', lw=1.1, label='MET RH')
sonde(ax, sonde_rh)
style(ax, 'Relative Humidity, %', (64.94, 101.04), list(range(65, 101, 5)))
add_legend(ax, 0.5868, 0.365, 2)

# 6. precipitable water vapour
ax = axs[5]
ax.plot(hours(mwr2c_pwv), mwr2c_pwv, color='orange', lw=1.3, marker=(6, 2, 0), ms=6, mew=1.2,
        markevery=[0], label='MWR 2C PWV')
ax.plot(hours(mwr3c_pwv), mwr3c_pwv, color='brown', lw=2.4, label='MWR 3C PWV')
ax.plot(hours(mwr3c_pwv), mwr3c_pwv, color='red', lw=1.3)
sonde(ax, sonde_pwv)
style(ax, 'Precip. Water Vapor, mm', (1.337, 2.735), [1.4, 1.6, 1.8, 2.0, 2.2, 2.4, 2.6])
ax.yaxis.set_major_formatter(FormatStrFormatter('%g'))
add_legend(ax, 0.710, 0.958, 0)

fig.savefig('out.png', dpi=300)
